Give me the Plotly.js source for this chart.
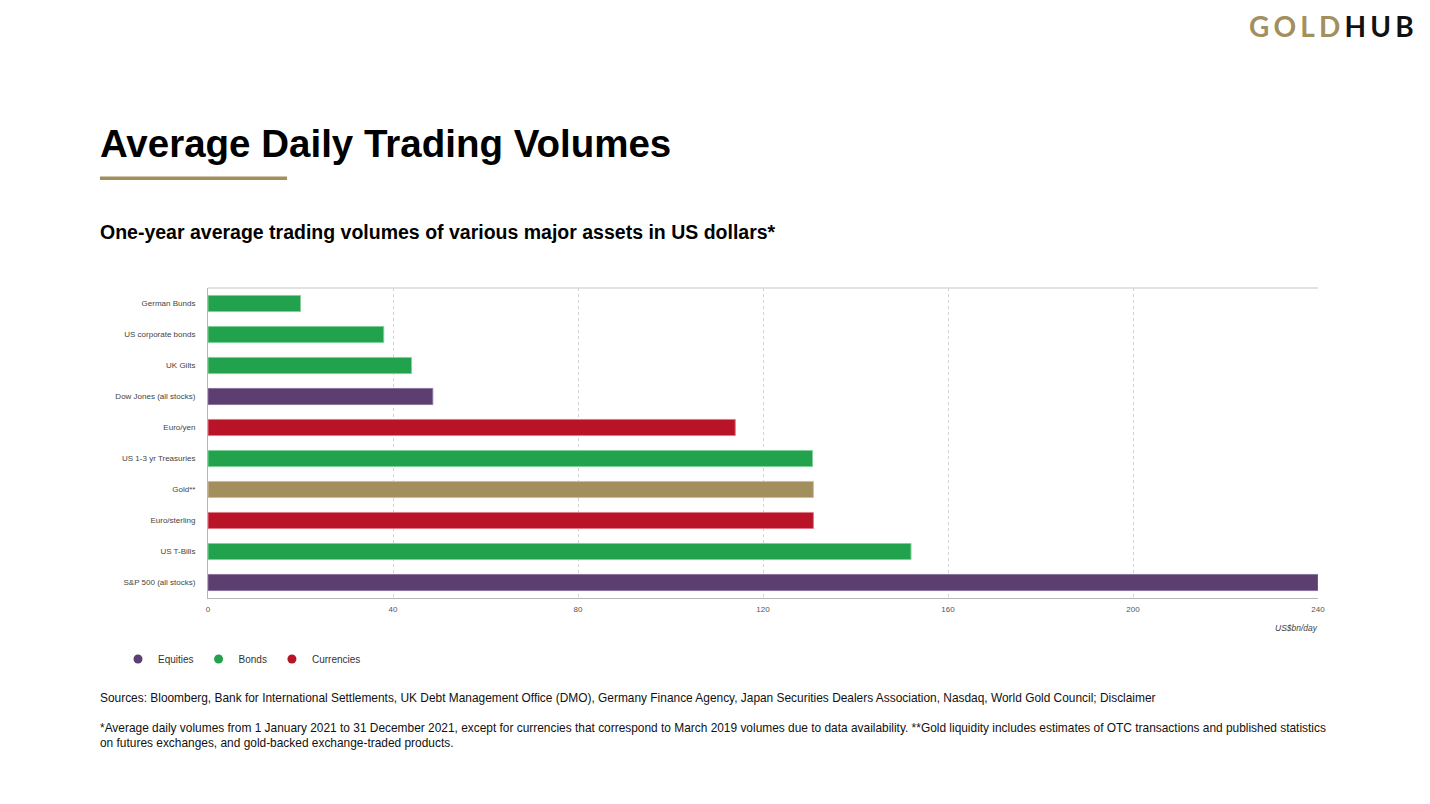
<!DOCTYPE html>
<html>
<head>
<meta charset="utf-8">
<script src="https://cdn.plot.ly/plotly-3.0.1.min.js"></script>
<style>
  html, body { margin: 0; padding: 0; background: #fff; }
  #chart { width: 1430px; height: 804px; position: relative; z-index: 1; }
  .logo {
    position: absolute; top: 8px; right: 12px; z-index: 5;
    font-family: Lato, "Open Sans", sans-serif; font-size: 28px; font-weight: 700;
    letter-spacing: 4.2px; color: #111; line-height: 36px;
  }
  .logo span { color: #a38f5e; }
</style>
</head>
<body>
<div class="logo"><span>GOLD</span>HUB</div>
<div id="chart"></div>
<script>
// values, US$bn/day, top to bottom
const categories = ['German Bunds', 'US corporate bonds', 'UK Gilts', 'Dow Jones (all stocks)', 'Euro/yen',
    'US 1-3 yr Treasuries', 'Gold**', 'Euro/sterling', 'US T-Bills', 'S&P 500 (all stocks)'];
const volumes = [20, 38, 44, 48.6, 114, 130.7, 130.9, 130.9, 152, 240];
const assetClass = ['Bonds', 'Bonds', 'Bonds', 'Equities', 'Currencies',
    'Bonds', 'Gold', 'Currencies', 'Bonds', 'Equities'];
const legendGroups = ['Equities', 'Bonds', 'Currencies'];
const xTicks = [0, 40, 80, 120, 160, 200, 240];

const colors = {
    Equities: '#5c3e70',
    Bonds: '#23a24e',
    Currencies: '#b81327',
    Gold: '#a38f5e'
};
const edgeColors = {
    Equities: '#8a74a0',
    Bonds: '#7fd09a',
    Currencies: '#e07a88',
    Gold: '#cdbf9e'
};

// plot area in page pixels
const L = 208, R = 1318, T = 288, B = 598;
function px(x) { return (x - L) / (R - L); }
function py(y) { return (B - y) / (B - T); }

function barTrace(group) {
    let ys = [], xs = [];
    categories.forEach(function (c, i) {
        if (assetClass[i] === group) {
            ys.push(c);
            xs.push(volumes[i]);
        }
    });
    return {
        type: 'bar',
        orientation: 'h',
        name: group,
        x: xs,
        y: ys,
        marker: { color: colors[group], line: { color: edgeColors[group], width: 1 } },
        showlegend: false,
        hoverinfo: 'x+y'
    };
}

// legend shows circles, so it is drawn from empty marker traces
function legendTrace(group) {
    return {
        type: 'scatter',
        mode: 'markers',
        name: group,
        x: [null],
        y: [null],
        marker: { color: colors[group], size: 9, symbol: 'circle' },
        showlegend: true
    };
}

let data = ['Equities', 'Bonds', 'Currencies', 'Gold'].map(barTrace)
    .concat(legendGroups.map(legendTrace));

const font = 'Liberation Sans, Arial, sans-serif';

var layout = {
    width: 1430,
    height: 804,
    paper_bgcolor: 'rgba(0,0,0,0)',
    plot_bgcolor: '#fff',
    margin: { l: L, r: 1430 - R, t: T, b: 804 - B },
    barmode: 'overlay',
    bargap: 0.48,
    font: { family: font, color: '#444' },
    xaxis: {
        range: [0, 240],
        tickvals: xTicks,
        ticks: '',
        tickfont: { size: 8, color: '#555' },
        ticklabelstandoff: 3,
        showgrid: true,
        gridcolor: '#d2d2d2',
        griddash: 'dot',
        gridwidth: 1,
        showline: true,
        linecolor: '#b5b5b5',
        linewidth: 1,
        zeroline: false,
        fixedrange: true
    },
    yaxis: {
        type: 'category',
        categoryorder: 'array',
        categoryarray: categories,
        autorange: 'reversed',
        ticks: '',
        tickfont: { size: 8, color: '#444' },
        ticklabelstandoff: 10,
        showgrid: false,
        showline: true,
        linecolor: '#b5b5b5',
        linewidth: 1,
        fixedrange: true
    },
    legend: {
        orientation: 'h',
        x: px(118),
        xanchor: 'left',
        y: py(659),
        yanchor: 'middle',
        font: { size: 10, color: '#333' },
        itemclick: false,
        itemdoubleclick: false
    },
    shapes: [
        // top frame line of the plot area
        { type: 'line', xref: 'paper', yref: 'paper', x0: 0, x1: 1, y0: 1, y1: 1,
          line: { color: '#d8d8d8', width: 1.5 } },
        // gold rule under the title
        { type: 'rect', xref: 'paper', yref: 'paper', x0: px(100), x1: px(287), y0: py(176.5), y1: py(180),
          fillcolor: '#a38f5e', line: { width: 0 } }
    ],
    annotations: [
        {
            text: '<b>Average Daily Trading Volumes</b>',
            xref: 'paper', yref: 'paper', x: px(98), y: py(143), xanchor: 'left', yanchor: 'middle',
            showarrow: false, font: { family: font, size: 38.5, color: '#000' }
        },
        {
            text: '<b>One-year average trading volumes of various major assets in US dollars*</b>',
            xref: 'paper', yref: 'paper', x: px(98), y: py(232), xanchor: 'left', yanchor: 'middle',
            showarrow: false, font: { family: font, size: 19.5, color: '#000' }
        },
        {
            text: '<i>US$bn/day</i>',
            xref: 'paper', yref: 'paper', x: 1, y: py(628), xanchor: 'right', yanchor: 'middle', xshift: 2,
            showarrow: false, font: { family: font, size: 8.5, color: '#444' }
        },
        {
            text: 'Sources: Bloomberg, Bank for International Settlements, UK Debt Management Office (DMO), Germany Finance Agency, Japan Securities Dealers Association, Nasdaq, World Gold Council; Disclaimer',
            xref: 'paper', yref: 'paper', x: px(98), y: py(698), xanchor: 'left', yanchor: 'middle',
            showarrow: false, font: { family: font, size: 11.92, color: '#111' }
        },
        {
            text: '*Average daily volumes from 1 January 2021 to 31 December 2021, except for currencies that correspond to March 2019 volumes due to data availability. **Gold liquidity includes estimates of OTC transactions and published statistics<br>on futures exchanges, and gold-backed exchange-traded products.',
            xref: 'paper', yref: 'paper', x: px(98), y: py(735), xanchor: 'left', yanchor: 'middle', align: 'left',
            showarrow: false, font: { family: font, size: 11.92, color: '#111' }
        }
    ]
};

var config = { displayModeBar: false, responsive: false };
Plotly.newPlot('chart', data, layout, config);
</script>
</body>
</html>
